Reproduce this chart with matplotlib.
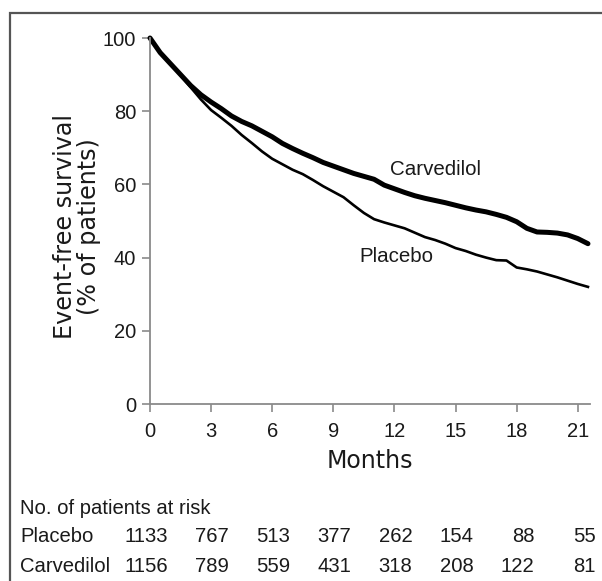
import matplotlib
matplotlib.use("Agg")
import matplotlib.pyplot as plt
from matplotlib.patches import Rectangle
import matplotlib.transforms as mtransforms

# ---- data ----
months = [0, 0.5, 1.0, 1.5, 2.0, 2.5, 3.0, 3.5, 4.0, 4.5, 5.0, 5.5, 6.0, 6.5, 7.0,
          7.5, 8.0, 8.5, 9.0, 9.5, 10.0, 10.5, 11.0, 11.5, 12.0, 12.5, 13.0, 13.5,
          14.0, 14.5, 15.0, 15.5, 16.0, 16.5, 17.0, 17.5, 18.0, 18.5, 19.0, 19.5,
          20.0, 20.5, 21.0, 21.5]
carvedilol = [100, 96, 93, 90, 87, 84.5, 82.5, 80.7, 78.7, 77.2, 76, 74.5, 73, 71.2, 69.8,
              68.5, 67.3, 66, 65, 64, 63, 62.2, 61.4, 59.8, 58.8, 57.8, 56.9, 56.2,
              55.6, 55, 54.3, 53.6, 53, 52.5, 51.8, 51, 49.8, 48, 47, 46.9,
              46.7, 46.2, 45.2, 43.8]
placebo = [100, 96, 93, 89.8, 86.5, 83.2, 80.3, 78.2, 76, 73.5, 71.3, 69, 67, 65.5, 64,
           62.8, 61.2, 59.5, 58, 56.5, 54.3, 52.2, 50.5, 49.6, 48.8, 48, 46.8, 45.6,
           44.8, 43.8, 42.6, 41.8, 40.8, 40, 39.3, 39.2, 37.3, 36.8, 36.2, 35.4,
           34.6, 33.7, 32.8, 32.0]

xticks = [0, 3, 6, 9, 12, 15, 18, 21]
yticks = [0, 20, 40, 60, 80, 100]
risk_times = [0, 3, 6, 9, 12, 15, 18, 21]
risk_placebo = [1133, 767, 513, 377, 262, 154, 88, 55]
risk_carvedilol = [1156, 789, 559, 431, 318, 208, 122, 81]

W, H = 602, 581
fig = plt.figure(figsize=(W / 100, H / 100), dpi=100)
fig.patch.set_facecolor("white")

ax = fig.add_axes([150 / W, (H - 404) / H, 440 / W, 366 / H])
ax.set_xlim(0, 21.6)
ax.set_ylim(0, 100)

ax.plot(months, carvedilol, color="black", lw=3.6, clip_on=False,
        solid_joinstyle="round", solid_capstyle="round")
ax.plot(months, placebo, color="black", lw=1.9, clip_on=False,
        solid_joinstyle="round")

for s in ["top", "right"]:
    ax.spines[s].set_visible(False)
for s in ["left", "bottom"]:
    ax.spines[s].set_color("#8a8a8a")
    ax.spines[s].set_linewidth(1.3)

tick_font = dict(family="Liberation Sans", size=14.5)
ax.set_xticks(xticks)
ax.set_yticks(yticks)
ax.set_xticklabels([str(t) for t in xticks], fontdict=tick_font, color="#1a1a1a")
ax.set_yticklabels([str(t) for t in yticks], fontdict=tick_font, color="#1a1a1a")
ax.tick_params(axis="x", direction="out", length=6, width=1.2, color="#8a8a8a", pad=7)
ax.tick_params(axis="y", direction="out", length=6, width=1.2, color="#8a8a8a", pad=4)

ax.set_xlabel("Months", family="DejaVu Sans", fontsize=17, color="#1a1a1a", labelpad=6)

fig.text(77 / W, 1 - 227 / H, "Event-free survival\n(% of patients)", rotation=90,
         ha="center", va="center", multialignment="center", linespacing=1.05,
         family="DejaVu Sans", fontsize=17.2, color="#1a1a1a")

ax.text(14.0, 64, "Carvedilol", ha="center", va="center", family="Liberation Sans",
        fontsize=14.8, color="#1a1a1a")
ax.text(12.1, 40.2, "Placebo", ha="center", va="center", family="Liberation Sans",
        fontsize=14.8, color="#1a1a1a")

# ---- risk table ----
tr = mtransforms.blended_transform_factory(ax.transData, fig.transFigure)
fig.text(20 / W, 1 - 508 / H, "No. of patients at risk", ha="left", va="center",
         family="Liberation Sans", fontsize=14.6, color="#1a1a1a")
row_y = {"Placebo": 1 - 537 / H, "Carvedilol": 1 - 567 / H}
for name, vals in [("Placebo", risk_placebo), ("Carvedilol", risk_carvedilol)]:
    fig.text(20 / W, row_y[name], name, ha="left", va="center",
             family="Liberation Sans", fontsize=14.6, color="#1a1a1a")
    for t, v in zip(risk_times, vals):
        fig.text(t + 0.88, row_y[name], str(v), transform=tr, ha="right", va="center",
                 family="Liberation Sans", fontsize=14.6, color="#1a1a1a")

# outer frame
fig.add_artist(Rectangle((10 / W, -0.05), 1.2, 1 - 13 / H + 0.05, transform=fig.transFigure,
                         fill=False, edgecolor="#555555", lw=1.6))

fig.savefig("out.png", dpi=100, facecolor="white")
